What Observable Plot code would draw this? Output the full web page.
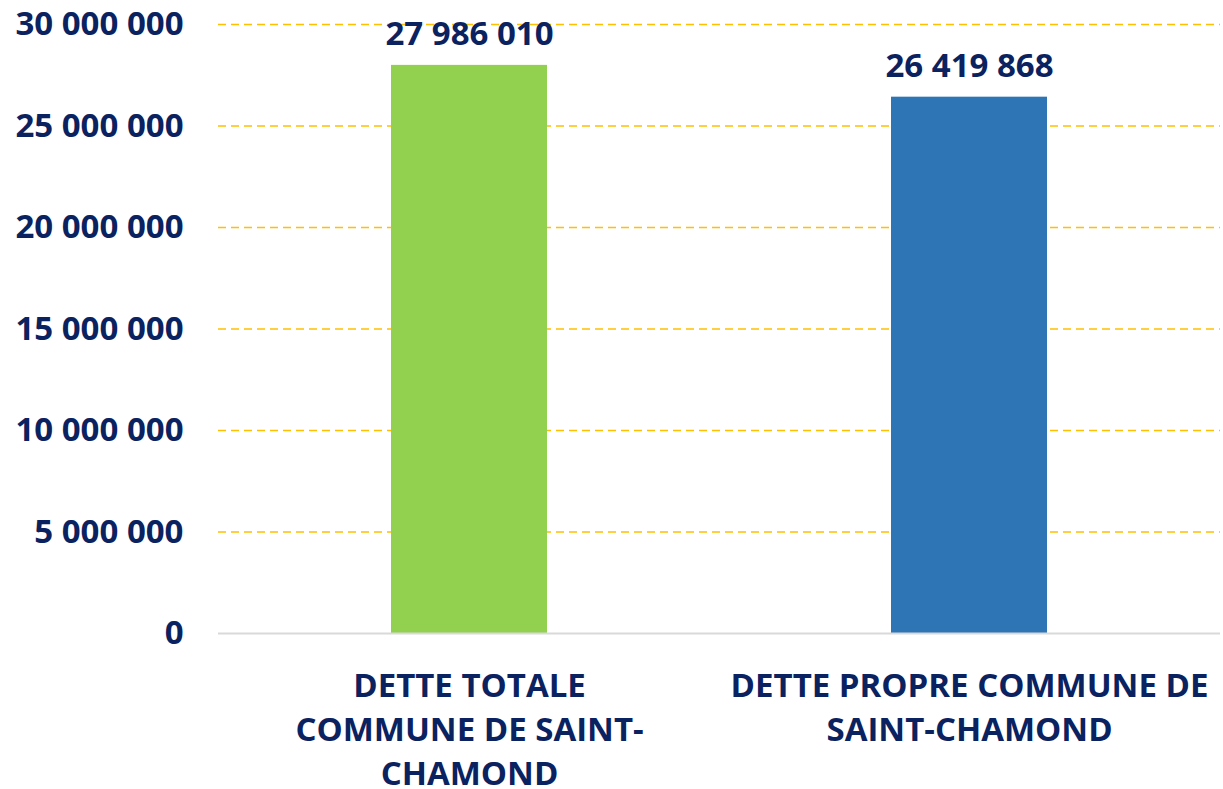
<!DOCTYPE html>
<html>
<head>
<meta charset="utf-8">
<script src="https://cdn.jsdelivr.net/npm/d3@7"></script>
<script src="https://cdn.jsdelivr.net/npm/@observablehq/plot@0.6"></script>
<style>
  html, body { margin: 0; padding: 0; background: #fff; }
  #chart svg { display: block; }
</style>
</head>
<body>
<div id="chart"></div>
<script>
const categories = ["DETTE TOTALE COMMUNE DE SAINT-CHAMOND", "DETTE PROPRE COMMUNE DE SAINT-CHAMOND"];
const categoryLabels = ["DETTE TOTALE\nCOMMUNE DE SAINT-\nCHAMOND", "DETTE PROPRE COMMUNE DE\nSAINT-CHAMOND"];
const values = [27986010, 26419868];
const colors = ["#92D050", "#2E75B6"];
const yTicks = [0, 5000000, 10000000, 15000000, 20000000, 25000000, 30000000];

const data = categories.map((c, i) => ({category: c, value: values[i], color: colors[i]}));
const fmt = v => d3.format(",")(v).replace(/,/g, " ");
const labelOf = new Map(categories.map((c, i) => [c, categoryLabels[i]]));

const textColor = "#0B2260";
const font = "'Open Sans', 'Noto Sans', sans-serif";
const fs = 33;

const chart = Plot.plot({
  width: 1223,
  height: 789,
  marginLeft: 218,
  marginRight: 3,
  marginTop: 24,
  marginBottom: 156,
  style: {fontFamily: font, fontWeight: "bold", color: textColor, background: "#fff"},
  x: {domain: categories, paddingInner: 0.687, paddingOuter: 0.344, label: null},
  y: {domain: [0, 30000000], label: null},
  marks: [
    Plot.ruleY(yTicks.filter(d => d > 0), {stroke: "#FFC000", strokeWidth: 1.6, strokeDasharray: "8,5"}),
    Plot.barY(data, {x: "category", y: "value", fill: "color"}),
    Plot.ruleY([0], {stroke: "#D9D9D9", strokeWidth: 2}),
    Plot.text(data, {x: "category", y: "value", text: d => fmt(d.value), dy: -31, lineAnchor: "middle", fontSize: fs, fontWeight: "bold", fill: textColor}),
    Plot.axisY({ticks: yTicks, tickFormat: fmt, tickSize: 0, tickPadding: 35, fontSize: fs, fontWeight: "bold", fill: textColor, label: null}),
    Plot.axisX({tickSize: 0, tickPadding: 32, tickFormat: d => labelOf.get(d), fontSize: fs, fontWeight: "bold", fill: textColor, lineHeight: 1.34, label: null})
  ]
});
document.getElementById("chart").appendChild(chart);
</script>
</body>
</html>
